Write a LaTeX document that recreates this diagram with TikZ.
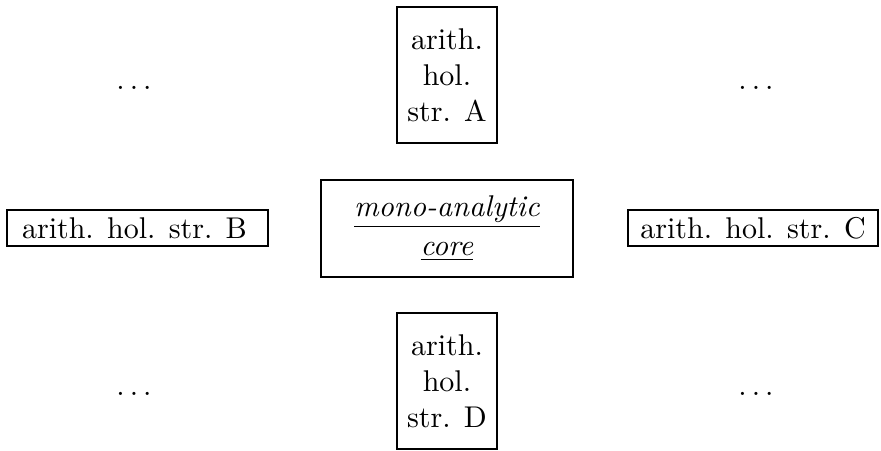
\documentclass[tikz,border=0pt]{standalone}
\begin{document}
\begin{tikzpicture}[x=0.33333pt,y=-0.33333pt,
  hbox/.style={draw,line width=0.6pt,inner sep=0pt,align=center},
  vbox/.style={hbox,minimum width=33.33pt,minimum height=45.33pt},
  wbox/.style={hbox,minimum height=12pt},
  dotsnode/.style={inner sep=0pt,anchor=base}]
\useasboundingbox (0,0) rectangle (881,450);
\node[vbox] (A) at (447,75) {arith.\\hol.\\str. A};
\node[vbox] (D) at (447,381) {arith.\\hol.\\str. D};
\node[hbox,minimum width=84pt,minimum height=32.33pt] (core) at (447,228.5)
  {\underline{\textit{mono-analytic}}\\[1pt]\underline{\textit{core}}};
\node[wbox,minimum width=87pt] (B) at (137.5,228) {arith. hol. str. B\hspace{2pt}};
\node[wbox,minimum width=83.33pt] (C) at (753,228) {arith. hol. str. C};
\node[dotsnode] (d1) at (134,89) {$\ldots$};
\node[dotsnode] (d2) at (756,89) {$\ldots$};
\node[dotsnode] (d3) at (134,395) {$\ldots$};
\node[dotsnode] (d4) at (756,395) {$\ldots$};
\end{tikzpicture}
\end{document}
